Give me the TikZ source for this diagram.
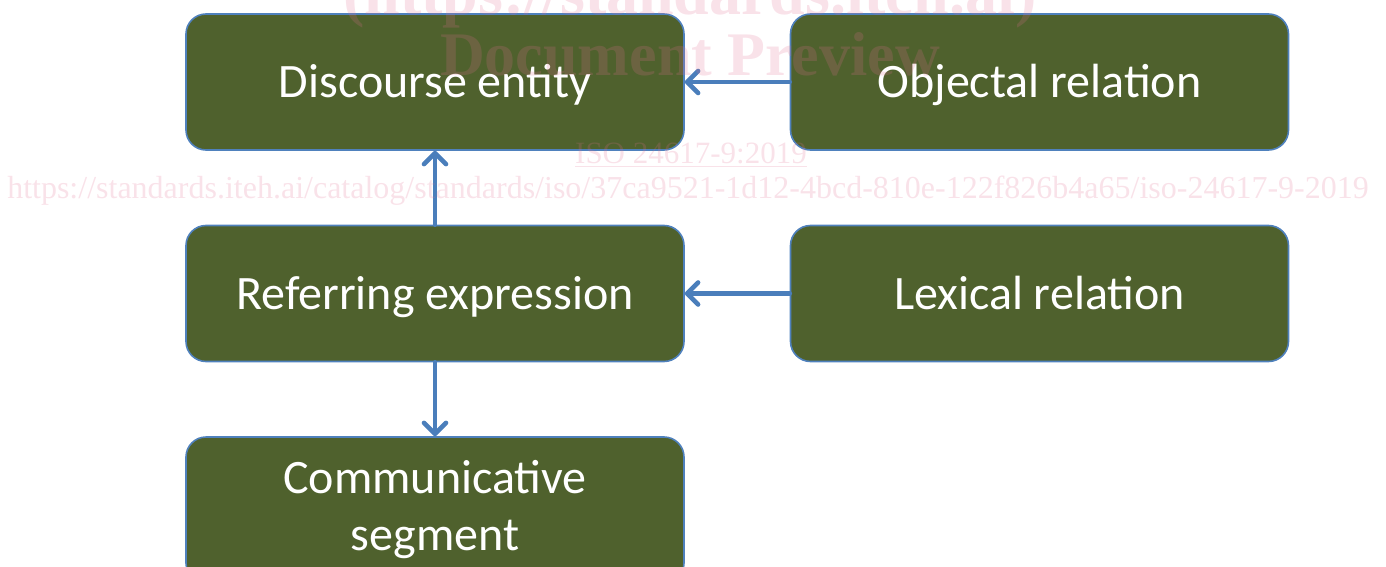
\documentclass[tikz,border=0pt]{standalone}
\usepackage{fontspec}
\setmainfont{Carlito}
\newfontfamily\wmfont{Liberation Serif}
\usetikzlibrary{arrows.meta}
\definecolor{boxfill}{RGB}{79,97,45}
\definecolor{boxedge}{RGB}{79,129,189}
\definecolor{arrowblue}{RGB}{74,126,187}
\definecolor{wmpink}{RGB}{225,110,145}
\tikzset{
  box/.style={draw=boxedge, line width=1.6pt, fill=boxfill, rounded corners=20pt,
    minimum width=498pt, minimum height=136pt, inner sep=0pt, text=white,
    font=\fontsize{48}{57}\selectfont, align=center},
  oneline/.style={text height=31pt, text depth=0pt},
  link/.style={draw=arrowblue, line width=4.6pt, line cap=round,
    -{Straight Barb[length=11pt, width=22pt, round]}},
  wm/.style={text=wmpink, text opacity=0.2, inner sep=0pt}
}
\begin{document}
\begin{tikzpicture}[x=1pt, y=-1pt]
\useasboundingbox (0,0) rectangle (1386,567);
\node[box, oneline] (de) at (435,82) {Discourse entity};
\node[box, oneline] (or) at (1039.5,82) {Objectal relation};
\node[box, oneline] (re) at (435,293.5) {Referring expression};
\node[box, oneline] (lr) at (1039.5,293.5) {Lexical relation};
\node[box, minimum height=146pt] (cs) at (435,510) {Communicative\\segment};
\draw[link] (or.west) -- (de.east);
\draw[link] (lr.west) -- (re.east);
\draw[link] (re.north) -- (de.south);
\draw[link] (re.south) -- (cs.north);
\node[wm, font=\wmfont\bfseries\fontsize{64}{64}\selectfont, anchor=base] (w1) at (690,15) {(https://standards.iteh.ai)};
\node[wm, font=\wmfont\bfseries\fontsize{62}{62}\selectfont, anchor=base] (w2) at (690,76) {Document Preview};
\node[wm, font=\wmfont\fontsize{31}{31}\selectfont, anchor=base] (w3) at (691,164) {\underline{ISO 24617-9:2019}};
\node[wm, font=\wmfont\fontsize{32}{32}\selectfont, anchor=base] (w4) at (688,198) {https://standards.iteh.ai/catalog/standards/iso/37ca9521-1d12-4bcd-810e-122f826b4a65/iso-24617-9-2019};
\end{tikzpicture}
\end{document}
